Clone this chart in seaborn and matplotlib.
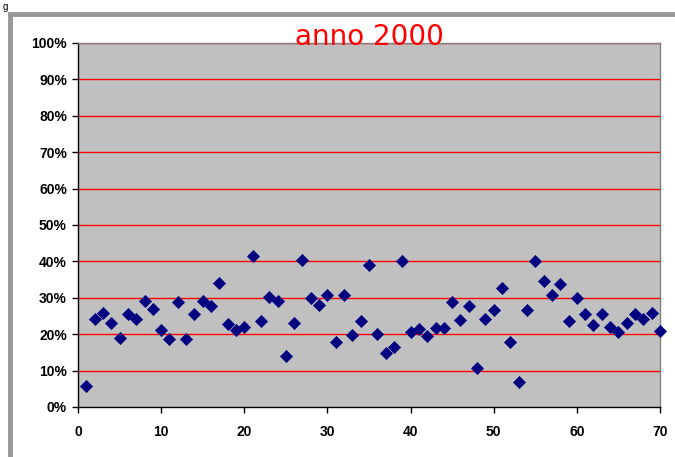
import matplotlib
matplotlib.use("Agg")
import matplotlib.pyplot as plt
import seaborn as sns
import pandas as pd
from matplotlib.patches import Rectangle
from matplotlib.ticker import FuncFormatter

x_values = list(range(1, 71))
y_percent = [5.7, 24.3, 25.8, 23.2, 19.0, 25.5, 24.3, 29.2, 27.0, 21.2,
             18.6, 28.8, 18.6, 25.5, 29.2, 27.7, 34.2, 22.8, 21.2, 22.0,
             41.4, 23.6, 30.3, 29.2, 14.1, 23.2, 40.4, 30.0, 28.1, 30.7,
             17.9, 30.7, 19.8, 23.6, 39.1, 20.1, 14.9, 16.4, 40.2, 20.5,
             21.3, 19.4, 21.7, 21.7, 28.9, 24.0, 27.7, 10.8, 24.3, 26.6,
             32.6, 17.9, 6.9, 26.6, 40.2, 34.5, 30.8, 33.8, 23.6, 29.9,
             25.5, 22.4, 25.5, 22.0, 20.5, 23.2, 25.5, 24.3, 25.8, 21.0]
title = "anno 2000"
x_ticks = [0, 10, 20, 30, 40, 50, 60, 70]
y_ticks = [0, 10, 20, 30, 40, 50, 60, 70, 80, 90, 100]

df = pd.DataFrame({"x": x_values, "y": y_percent})

sns.set_theme(style="white")
plt.rcParams["font.family"] = ["Liberation Sans", "DejaVu Sans"]

W, H = 675, 457
fig = plt.figure(figsize=(W / 100, H / 100), dpi=100)
fig.patch.set_facecolor("white")

# outer chart frame (extends beyond the bottom/right edge)
fig.patches.append(Rectangle((10 / W, -0.2), 1.5, 1 - 13.5 / H + 0.2,
                             transform=fig.transFigure, fill=False,
                             edgecolor="#999999", linewidth=3.5, zorder=0))
fig.text(3 / W, 1 - 1.5 / H, "g", fontsize=7, color="black", va="top")

ax = fig.add_axes([78 / W, 50 / H, (660 - 78) / W, (407 - 43) / H])
ax.set_facecolor("#c0c0c0")

for yt in y_ticks[1:]:
    ax.axhline(yt, color="#ff0000", linewidth=1.0, zorder=1)

sns.scatterplot(data=df, x="x", y="y", marker="D", s=38, color="#000080",
                edgecolor="#000080", linewidth=0.5, ax=ax, zorder=3,
                clip_on=False)

ax.set_xlim(0, 70)
ax.set_ylim(0, 100)
ax.set_xticks(x_ticks)
ax.set_yticks(y_ticks)
ax.yaxis.set_major_formatter(FuncFormatter(lambda v, p: f"{int(v)}%"))
ax.set_xlabel("")
ax.set_ylabel("")
ax.grid(False)

for lbl in ax.get_xticklabels() + ax.get_yticklabels():
    lbl.set_fontweight("bold")
    lbl.set_fontsize(10)
    lbl.set_color("black")

ax.tick_params(axis="both", which="major", direction="out", length=4,
               width=1, color="black", left=True, bottom=True)
ax.tick_params(axis="x", pad=9)
ax.tick_params(axis="y", pad=4)

ax.spines["left"].set_color("black")
ax.spines["bottom"].set_color("black")
ax.spines["left"].set_linewidth(1.0)
ax.spines["bottom"].set_linewidth(1.0)
ax.spines["top"].set_color("#808080")
ax.spines["right"].set_color("#808080")
ax.spines["top"].set_linewidth(1.0)
ax.spines["right"].set_linewidth(1.0)

fig.text(369 / W, 1 - 45 / H, title, color="#ff0000", fontsize=20,
         ha="center", va="baseline", family=["DejaVu Sans"], zorder=5)

fig.savefig("out.png", dpi=100)
